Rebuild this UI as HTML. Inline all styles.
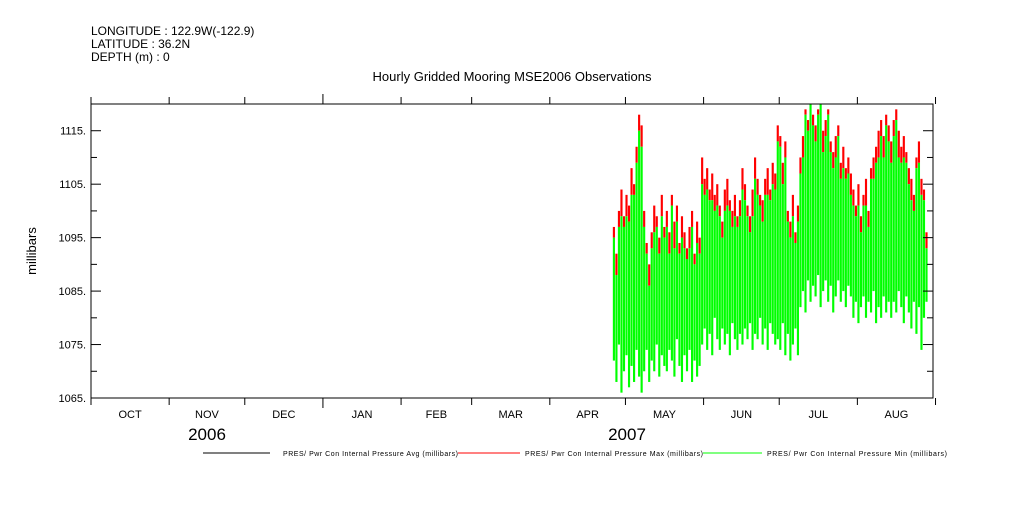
<!DOCTYPE html>
<html><head><meta charset="utf-8"><style>
body{margin:0;background:#fff;}
svg text{font-family:"Liberation Sans",sans-serif;fill:#000;}
</style></head><body>
<svg width="1009" height="504" xmlns="http://www.w3.org/2000/svg">
<g font-size="12">
<text x="91" y="35">LONGITUDE : 122.9W(-122.9)</text>
<text x="91" y="48">LATITUDE : 36.2N</text>
<text x="91" y="61">DEPTH (m) : 0</text>
</g>
<text x="512" y="81" font-size="13" text-anchor="middle">Hourly Gridded Mooring MSE2006 Observations</text>
<text transform="translate(36,251) rotate(-90)" font-size="13" text-anchor="middle">millibars</text>
<g id="plot"></g>
<g id="axes"></g>
<g font-size="7">
<line x1="203" y1="453" x2="270" y2="453" stroke="#000"/>
<text x="283" y="456" textLength="175">PRES/ Pwr Con Internal Pressure Avg (millibars)</text>
<line x1="458" y1="453" x2="520" y2="453" stroke="#f00"/>
<text x="525" y="456" textLength="178">PRES/ Pwr Con Internal Pressure Max (millibars)</text>
<line x1="703" y1="453" x2="762" y2="453" stroke="#0f0"/>
<text x="767" y="456" textLength="180">PRES/ Pwr Con Internal Pressure Min (millibars)</text>
</g>
</svg>
<script>
var yTicks=[1065,1075,1085,1095,1105,1115];
var months=["OCT","NOV","DEC","JAN","FEB","MAR","APR","MAY","JUN","JUL","AUG"];
var monthDays=[31,30,31,31,28,31,30,31,30,31,31];
var years=[{label:"2006",x:207},{label:"2007",x:627}];
var dataStartDay=207; // Apr 26 2007 (days since Oct 1 2006)
var lowVals=[1072,1068,1075,1066,1070,1073,1067,1071,1068,1074,1069,
1066,1070,1074,1068,1072,1070,1075,1069,1073,1071,
1070,1074,1072,1069,1076,1071,1068,1073,1070,1074,1068,1072,1069,1071,
1075,1078,1074,1077,1073,1080,1076,1074,1078,1075,1077,1073,1079,1076,1074,1077,
1075,1078,1076,1079,1074,1077,1076,1080,1075,1078,1074,1079,1077,1075,
1076,1074,1079,1073,1077,1072,1075,1078,1073,
1082,1085,1081,1087,1083,1086,1084,1088,1082,1085,1087,1083,1086,1081,1084,1087,1083,1085,1082,1086,1084,
1080,1083,1079,1082,1084,1080,1083,1081,1085,1079,1082,1080,1084,1081,1083,
1080,1083,1081,1085,1082,1079,1084,1081,1078,1083,1077,1082,1074,1080,1083];
var maxVals=[1097,1092,1100,1104,1099,1103,1101,1108,1105,1112,1118,
1116,1100,1094,1090,1096,1101,1099,1095,1103,1097,
1100,1096,1103,1098,1101,1094,1099,1096,1093,1097,1100,1092,1098,1095,
1110,1106,1108,1104,1107,1103,1105,1101,1098,1104,1106,1102,1100,1103,1099,1102,
1108,1105,1101,1099,1104,1110,1106,1103,1102,1106,1108,1104,1109,1107,
1116,1114,1109,1113,1100,1098,1103,1096,1101,
1110,1114,1119,1117,1120,1118,1116,1119,1120,1115,1117,1119,1113,1111,1114,1116,1109,1112,1108,1110,1107,
1104,1101,1105,1099,1103,1106,1100,1108,1110,1112,1115,1117,1114,1118,1116,
1113,1117,1119,1115,1112,1114,1111,1108,1106,1103,1110,1113,1106,1104,1096];
var maxExcess=[2,4,3,5,2,4,3,5,2,3,3,
4,3,2,4,3,5,2,3,4,2,
3,4,2,5,3,2,4,3,2,4,3,2,4,3,
5,3,4,2,5,3,4,2,3,4,5,2,3,4,2,3,
4,3,2,3,5,4,3,2,4,3,5,2,4,3,
3,2,4,3,2,3,4,2,3,
3,4,1,2,0,2,3,1,0,4,3,1,2,3,4,2,3,4,2,3,4,
3,2,4,3,2,5,3,2,4,3,5,3,4,2,3,
4,3,2,5,3,4,2,3,4,3,2,4,3,2,3];
var NS="http://www.w3.org/2000/svg";
var X0=91,X1=933,Y0=398,Y1=104,V0=1065,V1=1120,TOTAL=334;
function xs(d){return X0+(X1-X0)*d/TOTAL;}
function ys(v){return Y0-(Y0-Y1)*(v-V0)/(V1-V0);}
function mk(tag,attrs,parent){var e=document.createElementNS(NS,tag);for(var k in attrs)e.setAttribute(k,attrs[k]);parent.appendChild(e);return e;}
var plot=document.getElementById('plot'),axes=document.getElementById('axes');
var w=(X1-X0)/TOTAL*0.85;
for(var i=0;i<lowVals.length;i++){
  var x=xs(dataStartDay+i),hi=Math.min(maxVals[i],V1),gt=hi-maxExcess[i];
  var r=mk('rect',{x:x,y:ys(hi),width:w,height:ys(gt)-ys(hi),fill:'#f00'},plot);
  
  
  var g=mk('rect',{x:x,y:ys(gt),width:w,height:ys(lowVals[i])-ys(gt),fill:'#0f0'},plot);
  
  
}
var fr=mk('rect',{x:X0,y:Y1,width:X1-X0,height:Y0-Y1,fill:'none',stroke:'#000','stroke-width':1},axes);


for(var v=V0;v<=V1;v+=5){
  var major=yTicks.indexOf(v)>=0,len=major?10:6;
  mk('line',{x1:X0,y1:ys(v),x2:X0+len,y2:ys(v),stroke:'#000'},axes);
  mk('line',{x1:X1,y1:ys(v),x2:X1-len,y2:ys(v),stroke:'#000'},axes);
}
yTicks.forEach(function(v){
  var t=mk('text',{x:86,y:ys(v)+4,'font-size':11,'text-anchor':'end'},axes);
  t.textContent=v+'.';
  
  
});
var d=0;
for(var m=0;m<=months.length;m++){
  var x=xs(d),isYear=(m==3);
  mk('line',{x1:x,y1:Y0,x2:x,y2:Y0+(isYear?10:7),stroke:'#000'},axes);
  mk('line',{x1:x,y1:Y1,x2:x,y2:Y1-(isYear?10:7),stroke:'#000'},axes);
  if(m<months.length){
    var t=mk('text',{x:xs(d+monthDays[m]/2),y:418,'font-size':11,'text-anchor':'middle'},axes);
    t.textContent=months[m];
    
    
    d+=monthDays[m];
  }
}
years.forEach(function(yr){
  var t=mk('text',{x:yr.x,y:440,'font-size':17,'text-anchor':'middle'},axes);
  t.textContent=yr.label;
  
  
});
</script>
</body></html>
